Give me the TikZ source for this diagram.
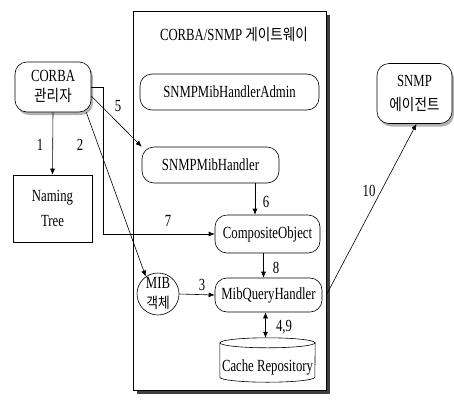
\documentclass[tikz,border=0pt]{standalone}
\usepackage{fontspec}
\setmainfont[FakeStretch=0.75]{Liberation Serif}
\newfontfamily\krfont[FakeStretch=0.85]{Noto Sans CJK KR}
\usetikzlibrary{arrows.meta,shadows}

\begin{document}
\begin{tikzpicture}[x=1pt,y=-1pt,
  every node/.style={font=\fontsize{17}{20}\selectfont, inner sep=0pt, align=center},
  lin/.style={line width=0.6pt},
  arr/.style={lin, -{Latex[length=6pt,width=5pt]}},
  actor/.style={draw, lin, rounded corners=12pt, fill=white,
    drop shadow={shadow xshift=2pt, shadow yshift=-3pt, fill=gray!60, opacity=1}},
  handler/.style={draw, lin, rounded corners=12pt, fill=white},
  kr/.style={font=\fontsize{16}{20}\krfont},
  lab/.style={font=\fontsize{17}{18}\selectfont}]
\useasboundingbox (0,0) rectangle (454,399);

% gateway frame
\node (gw) at (229.5,200.5) [draw, line width=0.5pt, fill=white,
  minimum width=193, minimum height=379,
  drop shadow={shadow xshift=4pt, shadow yshift=-4pt, fill=black!75, opacity=1}] {};
\node (title) at (234,35) {CORBA/SNMP {\fontsize{16}{20}\krfont 게이트웨이}};

% external parties
\node (corba) at (53,87) [actor, minimum width=76, minimum height=50]
  {CORBA\\{\fontsize{16}{20}\krfont 관리자}};
\node (snmp) at (414.5,93.5) [actor, minimum width=75, minimum height=60,
  font=\fontsize{17}{24}\selectfont] {SNMP\\{\fontsize{16}{24}\krfont 에이전트}};
\node (naming) at (52.5,208.5) [draw, lin, minimum width=79, minimum height=67,
  font=\fontsize{17}{25}\selectfont] {Naming\\Tree};

% gateway components
\node (admin) at (229.5,92) [handler, minimum width=179, minimum height=36] {SNMPMibHandlerAdmin};
\node (snmh) at (210.5,165) [handler, minimum width=137, minimum height=36] {SNMPMibHandler};
\node (comp) at (267.5,234) [handler, minimum width=105, minimum height=38] {CompositeObject};
\node (mqh) at (268.5,295) [handler, minimum width=107, minimum height=34] {MibQueryHandler};
\node (mib) at (158,294) [draw, lin, circle, minimum size=42, fill=white,
  font=\fontsize{17}{20}\selectfont] {MIB\\{\fontsize{15}{20}\krfont 객체}};

% cache repository cylinder
\node (cache) at (267.5,360) [minimum width=95, minimum height=44] {};
\draw[lin] ([yshift=-5pt]cache.north west) -- ([yshift=5pt]cache.south west)
  arc[start angle=180, end angle=360, x radius=47.5pt, y radius=5pt]
  -- ([yshift=-5pt]cache.north east);
\draw[lin] ([yshift=-5pt]cache.north) ellipse[x radius=47.5pt, y radius=5pt];
\node (cachetext) at ([yshift=-7pt]cache.center) {Cache Repository};

% connectors
\draw[arr] (corba.south) -- (naming.north);
\draw[arr] ([xshift=-5pt]corba.south east) -- (mib.125);
\draw[arr] ([yshift=-9pt]corba.east) -- (snmh.north west);
\draw[arr] (corba.east) -- ++(12,0) |- (comp.west);
\coordinate (c6) at ([xshift=-12.5pt]comp.north);
\draw[arr] (snmh.south -| c6) -- (c6);
\coordinate (c8) at ([xshift=-5pt]mqh.north);
\draw[arr] (comp.south -| c8) -- (c8);
\draw[arr] (mib.east) -- (mqh.west);
\coordinate (c49) at ([xshift=-3pt]mqh.south);
\draw[lin, {Latex[length=6pt,width=5pt]}-{Latex[length=6pt,width=5pt]}] (c49) -- (c49 |- cache.north);
\draw[arr] ([xshift=4pt]mqh.east) -- ([xshift=2pt]snmp.south);

% step numbers
\node[lab] (n1) at (40,145) {1};
\node[lab] (n2) at (80,145) {2};
\node[lab] (n5) at (118,106) {5};
\node[lab] (n7) at (168,221) {7};
\node[lab] (n6) at (266,202) {6};
\node[lab] (n8) at (276,268) {8};
\node[lab] (n3) at (202,285) {3};
\node[lab] (n49) at (284,327) {4,9};
\node[lab] (n10) at (369,191) {10};
\end{tikzpicture}
\end{document}
